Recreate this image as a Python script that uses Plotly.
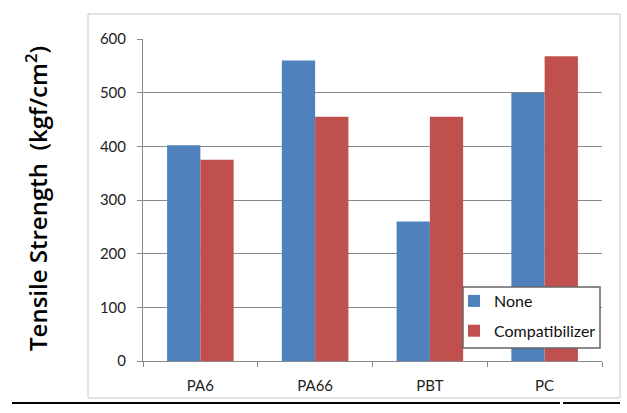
import plotly.graph_objects as go

categories = ["PA6", "PA66", "PBT", "PC"]
none_vals = [402, 560, 260, 500]
compat_vals = [375, 455, 455, 568]
y_ticks = [0, 100, 200, 300, 400, 500, 600]

W, H = 627, 413
L, R, T, B = 143, 25, 39, 52
pw, ph = W - L - R, H - T - B

def px(x):
    return (x - L) / pw

def py(y):
    return (H - B - y) / ph

fig = go.Figure()
fig.add_bar(name="None", x=categories, y=none_vals, marker=dict(color="#4F81BD", line=dict(width=0)), legendgroup="a")
fig.add_bar(name="Compatibilizer", x=categories, y=compat_vals, marker=dict(color="#C0504D", line=dict(width=0)), legendgroup="b")

fig.update_layout(
    width=W, height=H,
    margin=dict(l=L, r=R, t=T, b=B),
    paper_bgcolor="white", plot_bgcolor="white",
    barmode="group", bargap=0.42, bargroupgap=0,
    font=dict(family="Lato, Open Sans, sans-serif", size=15, color="#222"),
    legend=dict(
        x=px(454), y=py(284), xanchor="left", yanchor="top",
        borderwidth=0, bgcolor="rgba(0,0,0,0)",
        font=dict(size=16, color="#111"),
        traceorder="grouped", tracegroupgap=6,
    ),
    showlegend=True,
)
fig.update_xaxes(
    showline=True, linecolor="#888", linewidth=1,
    ticks="outside", tickson="boundaries", ticklen=5, tickcolor="#888",
    showgrid=False, tickfont=dict(size=15, color="#222"), ticklabelstandoff=11,
)
fig.update_yaxes(
    range=[0, 600], tickvals=y_ticks, showline=True, linecolor="#888", linewidth=1,
    ticks="outside", ticklen=5, tickcolor="#888",
    showgrid=True, gridcolor="#8a8a8a", gridwidth=1, zeroline=False,
    tickfont=dict(size=15, color="#222"), ticklabelstandoff=8,
)

fig.add_annotation(
    text="Tensile Strength  (kgf/cm<sup>2</sup>)", textangle=-90,
    xref="paper", yref="paper", x=px(36), y=py(199),
    xanchor="center", yanchor="middle", showarrow=False,
    font=dict(size=24, color="#000", family="Open Sans", weight=600),
)

# legend box
fig.add_shape(type="rect", xref="paper", yref="paper",
              x0=px(463), x1=px(600), y0=py(348), y1=py(287),
              line=dict(color="#666", width=1.5), fillcolor="white", layer="above")
# outer chart border
fig.add_shape(type="rect", xref="paper", yref="paper",
              x0=px(88), x1=px(620), y0=py(398), y1=py(14),
              line=dict(color="#c8c8c8", width=1), layer="below")
# bottom black rule
fig.add_shape(type="line", xref="paper", yref="paper",
              x0=px(12), x1=px(560), y0=py(403), y1=py(403),
              line=dict(color="black", width=2))
fig.add_shape(type="line", xref="paper", yref="paper",
              x0=px(563), x1=px(620), y0=py(403), y1=py(403),
              line=dict(color="black", width=2))

fig.write_html("out.html")
